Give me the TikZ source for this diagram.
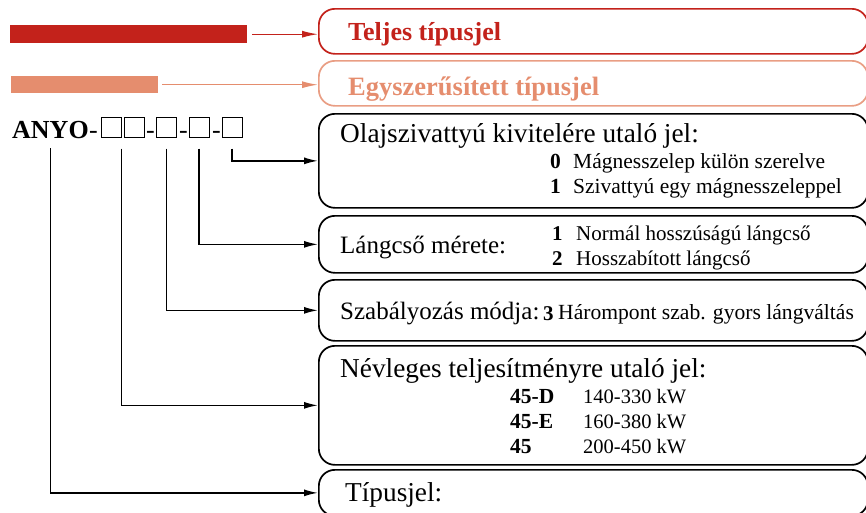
\documentclass[tikz,border=0pt]{standalone}
\usepackage{fontspec}
\setmainfont{Liberation Serif}
\usetikzlibrary{arrows.meta}
\definecolor{teljes}{HTML}{C3221B}
\definecolor{egysz}{HTML}{E58D6E}
\begin{document}
\begin{tikzpicture}[x = 1pt, y = -1pt,
        box/.style = {draw, rounded corners = 16pt, line width = 1.7pt, minimum width = 549pt, anchor = north west, inner sep = 0pt},
        negyzet/.style = {draw, line width = 1pt, minimum width = 20pt, minimum height = 20pt, inner sep = 0pt},
        cim/.style = {anchor = base west, inner sep = 0pt, font = \fontsize{25}{30}\selectfont},
        nagycim/.style = {anchor = base west, inner sep = 0pt, font = \fontsize{27.3}{32}\selectfont},
        tetel/.style = {anchor = base west, inner sep = 0pt, font = \fontsize{21}{25}\selectfont},
        nyil/.style = {line width = 1.5pt, -{Latex[length = 14pt, width = 7pt]}}]

        \clip (0, 0) rectangle (866, 512);

        % szinsavok
        \node (rb) at (10, 25) [anchor = north west, fill = teljes, minimum width = 237pt, minimum height = 18pt, inner sep = 0pt] {};
        \node (eb) at (11, 76) [anchor = north west, fill = egysz, minimum width = 147pt, minimum height = 17pt, inner sep = 0pt] {};

        \node (tb) at (318, 8) [box, draw = teljes, minimum height = 45pt] {};
        \node (sb) at (318, 60) [box, draw = egysz!85, minimum height = 45pt] {};
        \node at (348, 40) [cim, text = teljes, font = \fontsize{26}{30}\selectfont\bfseries] {Teljes típusjel};
        \node at (348, 95) [cim, text = egysz, font = \fontsize{26.5}{30}\selectfont\bfseries] {Egyszerűsített típusjel};

        \draw[nyil, teljes, line width = 1.3pt, -{Latex[length = 16pt, width = 7pt]}] ([xshift = 5pt]rb.east) -- (rb.east -| tb.west);
        \draw[nyil, egysz, line width = 1.3pt, -{Latex[length = 16pt, width = 7pt]}] ([xshift = 4pt]eb.east) -- (eb.east -| sb.west);

        % tipusjel
        \node (anyo) at (12, 138) [anchor = base west, inner sep = 0pt, font = \fontsize{26}{30}\selectfont\bfseries] {ANYO};
        \node (d1) at (89, 138) [anchor = base west, inner sep = 0pt, font = \fontsize{26}{30}\selectfont] {-};
        \node (q1) at (111, 127) [negyzet] {};
        \node (q2) at (134, 127) [negyzet] {};
        \node (d2) at (146, 138) [anchor = base west, inner sep = 0pt, font = \fontsize{26}{30}\selectfont] {-};
        \node (q3) at (166.5, 127) [negyzet] {};
        \node (d3) at (179, 138) [anchor = base west, inner sep = 0pt, font = \fontsize{26}{30}\selectfont] {-};
        \node (q4) at (199, 127) [negyzet] {};
        \node (d4) at (212, 138) [anchor = base west, inner sep = 0pt, font = \fontsize{26}{30}\selectfont] {-};
        \node (q5) at (232, 127) [negyzet] {};

        % dobozok
        \node (olaj) at (318, 113) [box, minimum height = 94pt] {};
        \node (lang) at (318, 215) [box, minimum height = 57pt] {};
        \node (szab) at (318, 279) [box, minimum height = 61pt] {};
        \node (nevl) at (318, 345) [box, minimum height = 119pt] {};
        \node (tipus) at (318, 469) [box, minimum height = 46pt] {};

        \node at (340, 142) [nagycim] {Olajszivattyú kivitelére utaló jel:};
        \node at (550, 168) [tetel, font = \fontsize{21.5}{25}\selectfont] {\textbf{0}};
        \node at (573, 168) [tetel, font = \fontsize{21.5}{25}\selectfont] {Mágnesszelep külön szerelve};
        \node at (550, 193) [tetel, font = \fontsize{21.5}{25}\selectfont] {\textbf{1}};
        \node at (573, 193) [tetel, font = \fontsize{21.5}{25}\selectfont] {Szivattyú egy mágnesszeleppel};

        \node at (340, 253) [cim] {Lángcső mérete:};
        \node at (552, 240) [tetel] {\textbf{1}};
        \node at (576, 240) [tetel] {Normál hosszúságú lángcső};
        \node at (552, 265) [tetel] {\textbf{2}};
        \node at (576, 265) [tetel] {Hosszabított lángcső};

        \node at (340, 319) [cim] {Szabályozás módja:};
        \node at (543, 320) [tetel] {\textbf{3}};
        \node at (558, 319) [tetel, font = \fontsize{21.6}{26}\selectfont] {Hárompont szab. gyors lángváltás};

        \node at (340, 377) [nagycim] {Névleges teljesítményre utaló jel:};
        \node at (510, 403) [tetel, font = \fontsize{21.5}{25}\selectfont] {\textbf{45-D}};
        \node at (583, 403) [tetel, font = \fontsize{20.5}{25}\selectfont] {140-330 kW};
        \node at (510, 428) [tetel, font = \fontsize{21.5}{25}\selectfont] {\textbf{45-E}};
        \node at (583, 428) [tetel, font = \fontsize{20.5}{25}\selectfont] {160-380 kW};
        \node at (510, 453) [tetel, font = \fontsize{21.5}{25}\selectfont] {\textbf{45}};
        \node at (583, 453) [tetel, font = \fontsize{20.5}{25}\selectfont] {200-450 kW};

        \node at (345, 501) [nagycim] {Típusjel:};

        % osszekotok
        \draw[nyil] ([yshift = -11pt]q5.south) |- (olaj.west);
        \draw[nyil] ([yshift = -11pt]q4.south) |- (lang.west);
        \draw[nyil] ([yshift = -11pt]q3.south) |- (szab.west);
        \draw[nyil] ([yshift = -11pt]q1.south east) |- (nevl.west);
        \draw[nyil] ([yshift = -10pt]anyo.south) |- (tipus.west);
    \end{tikzpicture}
\end{document}
